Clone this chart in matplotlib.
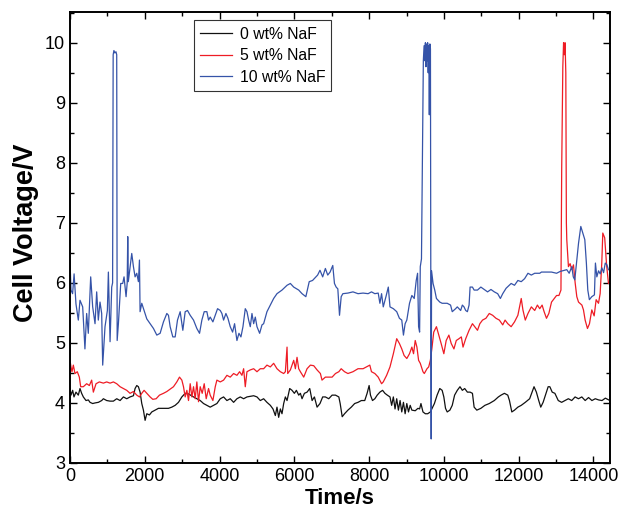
import matplotlib
matplotlib.use("Agg")
import matplotlib.pyplot as plt
from matplotlib.ticker import MultipleLocator

plt.rcParams["font.family"] = ["Liberation Sans", "DejaVu Sans"]

# ── data (time in s, cell voltage in V) ─────────────────────────────────────
t0 = [0, 27, 72, 107, 160, 223, 268, 312, 357, 429, 491, 536, 607, 670, 759, 848, 893, 982,
      1072, 1161, 1250, 1340, 1429, 1518, 1607, 1697, 1741, 1786, 1830, 1875, 1920, 1964, 2009,
      2054, 2125, 2188, 2277, 2366, 2500, 2634, 2723, 2813, 2902, 2992, 3081, 3170, 3304, 3393,
      3483, 3572, 3661, 3750, 3840, 3929, 4019, 4108, 4197, 4286, 4376, 4465, 4554, 4644, 4733,
      4822, 4912, 5001, 5090, 5179, 5268, 5358, 5429, 5492, 5536, 5581, 5626, 5670, 5715, 5760,
      5805, 5876, 5938, 6001, 6055, 6117, 6162, 6206, 6269, 6340, 6412, 6475, 6537, 6608, 6686,
      6758, 6830, 6920, 7010, 7100, 7190, 7226, 7280, 7343, 7433, 7523, 7613, 7703, 7793, 7883,
      7946, 8000, 8036, 8090, 8153, 8216, 8288, 8360, 8423, 8486, 8558, 8603, 8648, 8693, 8738,
      8783, 8828, 8873, 8918, 8963, 9008, 9053, 9098, 9143, 9233, 9305, 9350, 9386, 9440, 9503,
      9566, 9638, 9683, 9746, 9818, 9890, 9953, 9998, 10043, 10088, 10160, 10223, 10286, 10358,
      10430, 10493, 10556, 10628, 10700, 10763, 10808, 10880, 10988, 11096, 11213, 11348, 11456,
      11528, 11618, 11708, 11753, 11816, 11888, 11978, 12068, 12176, 12293, 12356, 12410, 12473,
      12536, 12590, 12653, 12716, 12788, 12833, 12896, 12968, 13058, 13148, 13238, 13328, 13418,
      13508, 13598, 13688, 13778, 13868, 13958, 14048, 14138, 14228, 14318, 14408]
v0 = [4.24, 4.13, 4.21, 4.10, 4.18, 4.13, 4.24, 4.16, 4.10, 4.04, 4.05, 4.01, 3.99, 4.00, 4.01,
      4.04, 4.07, 4.04, 4.03, 4.03, 4.07, 4.04, 4.10, 4.07, 4.10, 4.12, 4.24, 4.29, 4.27, 4.18,
      3.99, 3.88, 3.71, 3.82, 3.80, 3.85, 3.88, 3.91, 3.91, 3.91, 3.93, 3.96, 4.01, 4.10, 4.16,
      4.15, 4.10, 4.07, 4.04, 3.99, 3.96, 3.93, 3.96, 3.99, 4.07, 4.10, 4.04, 4.07, 4.01, 4.07,
      4.10, 4.07, 4.10, 4.11, 4.12, 4.10, 4.04, 4.07, 4.01, 3.96, 3.90, 3.79, 3.93, 3.76, 3.90,
      3.82, 3.99, 4.10, 4.04, 4.24, 4.21, 4.16, 4.21, 4.13, 4.16, 4.07, 4.16, 4.18, 4.24, 4.04,
      4.10, 3.93, 3.99, 4.10, 4.10, 4.07, 4.13, 4.13, 4.10, 3.99, 3.77, 3.82, 3.88, 3.93, 3.99,
      4.01, 4.04, 4.04, 4.16, 4.29, 4.13, 4.04, 4.07, 4.13, 4.18, 4.21, 4.16, 4.13, 4.10, 3.96,
      4.10, 3.90, 4.07, 3.88, 4.04, 3.85, 4.01, 3.82, 3.99, 3.85, 3.96, 3.88, 3.87, 3.91, 3.90,
      3.99, 3.85, 3.82, 3.82, 3.85, 3.91, 3.99, 4.13, 4.24, 4.21, 4.10, 3.91, 3.85, 3.88, 3.96,
      4.13, 4.21, 4.27, 4.21, 4.24, 4.18, 4.18, 4.16, 3.93, 3.88, 3.91, 3.96, 3.99, 4.04, 4.10,
      4.13, 4.16, 4.13, 4.04, 3.85, 3.88, 3.93, 3.96, 4.01, 4.07, 4.18, 4.27, 4.18, 4.04, 3.93,
      4.01, 4.13, 4.27, 4.27, 4.18, 4.16, 4.04, 4.01, 4.04, 4.07, 4.04, 4.10, 4.07, 4.10, 4.04,
      4.09, 4.04, 4.07, 4.05, 4.04, 4.08, 4.05]

t5 = [0, 27, 54, 90, 134, 196, 250, 286, 357, 446, 518, 580, 625, 697, 786, 893, 982, 1072,
      1161, 1250, 1340, 1429, 1518, 1607, 1697, 1786, 1858, 1920, 1982, 2054, 2143, 2215, 2304,
      2393, 2500, 2590, 2679, 2768, 2857, 2929, 2992, 3036, 3081, 3126, 3170, 3215, 3260, 3304,
      3349, 3393, 3438, 3483, 3536, 3590, 3643, 3706, 3750, 3822, 3885, 3929, 4019, 4108, 4197,
      4286, 4376, 4465, 4536, 4599, 4644, 4688, 4733, 4822, 4912, 5001, 5090, 5179, 5268, 5358,
      5447, 5536, 5626, 5715, 5760, 5805, 5823, 5894, 5983, 6028, 6072, 6117, 6162, 6251, 6340,
      6430, 6519, 6608, 6697, 6740, 6830, 6920, 7010, 7100, 7190, 7253, 7343, 7433, 7568, 7703,
      7838, 7928, 8018, 8063, 8153, 8243, 8333, 8378, 8468, 8558, 8648, 8738, 8810, 8873, 8936,
      9008, 9080, 9143, 9188, 9233, 9278, 9323, 9368, 9440, 9476, 9548, 9593, 9638, 9683, 9728,
      9800, 9863, 9926, 9998, 10061, 10133, 10196, 10268, 10331, 10403, 10466, 10511, 10583,
      10673, 10763, 10826, 10898, 10961, 11033, 11123, 11213, 11303, 11393, 11483, 11573, 11636,
      11708, 11798, 11888, 11978, 12068, 12113, 12176, 12248, 12338, 12428, 12500, 12563, 12626,
      12680, 12743, 12806, 12878, 12950, 13013, 13076, 13130, 13150, 13180, 13200, 13220, 13240,
      13260, 13275, 13286, 13330, 13375, 13420, 13465, 13510, 13554, 13600, 13690, 13732, 13777,
      13839, 13893, 13955, 14018, 14071, 14134, 14178, 14222, 14249, 14300, 14350, 14401]
v5 = [4.71, 4.60, 4.52, 4.63, 4.49, 4.52, 4.43, 4.27, 4.27, 4.32, 4.29, 4.38, 4.18, 4.32, 4.35,
      4.33, 4.35, 4.33, 4.35, 4.32, 4.27, 4.24, 4.21, 4.16, 4.19, 4.13, 4.10, 4.16, 4.21, 4.16,
      4.10, 4.06, 4.07, 4.13, 4.16, 4.19, 4.23, 4.27, 4.35, 4.43, 4.38, 4.27, 4.10, 4.21, 4.04,
      4.32, 4.10, 4.27, 4.07, 4.35, 4.02, 4.27, 4.16, 4.32, 4.07, 4.24, 4.13, 4.04, 4.27, 4.38,
      4.35, 4.38, 4.46, 4.43, 4.49, 4.46, 4.52, 4.46, 4.57, 4.27, 4.52, 4.55, 4.57, 4.52, 4.57,
      4.57, 4.63, 4.60, 4.66, 4.57, 4.52, 4.49, 4.52, 4.93, 4.49, 4.55, 4.71, 4.57, 4.76, 4.57,
      4.52, 4.43, 4.57, 4.63, 4.62, 4.55, 4.49, 4.38, 4.43, 4.43, 4.43, 4.49, 4.52, 4.57, 4.52,
      4.49, 4.52, 4.57, 4.57, 4.60, 4.63, 4.52, 4.49, 4.43, 4.32, 4.35, 4.46, 4.60, 4.82, 5.07,
      4.99, 4.90, 4.79, 4.74, 4.82, 4.93, 4.82, 5.04, 4.93, 4.71, 4.66, 4.52, 4.49, 4.57, 4.60,
      4.71, 4.93, 5.18, 5.27, 5.13, 4.99, 4.82, 5.04, 5.13, 4.99, 4.90, 5.04, 5.07, 5.10, 4.93,
      5.07, 5.21, 5.32, 5.27, 5.21, 5.32, 5.38, 5.41, 5.49, 5.46, 5.41, 5.38, 5.30, 5.38, 5.32,
      5.27, 5.35, 5.46, 5.74, 5.55, 5.38, 5.49, 5.60, 5.54, 5.63, 5.57, 5.63, 5.52, 5.41, 5.49,
      5.68, 5.74, 5.79, 5.79, 5.88, 7.90, 9.60, 10.00, 9.80, 10.00, 9.50, 7.00, 6.72, 6.27,
      6.32, 6.22, 6.30, 6.00, 5.77, 5.68, 5.63, 5.55, 5.38, 5.24, 5.32, 5.55, 5.45, 5.72, 5.66,
      5.82, 6.33, 6.83, 6.75, 6.30, 5.99]

t10 = [0, 27, 70, 110, 160, 223, 268, 340, 400, 446, 490, 554, 607, 670, 714, 758, 803, 848,
       875, 937, 1000, 1027, 1072, 1116, 1140, 1155, 1175, 1200, 1230, 1250, 1262, 1295, 1357,
       1410, 1446, 1500, 1530, 1545, 1560, 1652, 1697, 1741, 1786, 1830, 1858, 1875, 1920, 1982,
       2054, 2143, 2233, 2322, 2411, 2500, 2590, 2634, 2679, 2750, 2813, 2875, 2947, 3018, 3081,
       3143, 3215, 3304, 3393, 3465, 3527, 3590, 3661, 3706, 3750, 3822, 3885, 3947, 4019, 4063,
       4108, 4170, 4224, 4286, 4349, 4402, 4465, 4519, 4572, 4626, 4688, 4733, 4778, 4822, 4867,
       4912, 4956, 5001, 5072, 5135, 5179, 5268, 5358, 5447, 5536, 5670, 5805, 5894, 5983, 6117,
       6206, 6308, 6398, 6487, 6623, 6686, 6758, 6830, 6893, 6956, 7028, 7073, 7118, 7163, 7208,
       7253, 7298, 7433, 7568, 7703, 7838, 7973, 8063, 8153, 8243, 8288, 8333, 8378, 8450, 8513,
       8558, 8648, 8738, 8810, 8873, 8918, 8963, 9008, 9080, 9143, 9206, 9260, 9296, 9323, 9350,
       9368, 9400, 9430, 9450, 9470, 9490, 9505, 9520, 9535, 9550, 9565, 9580, 9595, 9610, 9625,
       9640, 9652, 9660, 9670, 9710, 9755, 9800, 9890, 9953, 10088, 10178, 10223, 10313, 10358,
       10448, 10493, 10538, 10583, 10628, 10673, 10700, 10763, 10808, 10898, 10988, 11078, 11168,
       11258, 11348, 11438, 11510, 11573, 11663, 11798, 11888, 11978, 12068, 12158, 12248, 12338,
       12428, 12563, 12608, 12743, 12878, 13013, 13108, 13286, 13350, 13420, 13460, 13500, 13554,
       13600, 13661, 13715, 13768, 13810, 13848, 13890, 13955, 14025, 14052, 14090, 14135, 14180,
       14225, 14270, 14315, 14360, 14400]
v10 = [6.38, 5.88, 5.82, 6.15, 5.65, 5.38, 5.71, 5.60, 4.90, 5.49, 5.16, 6.10, 5.60, 5.32, 5.85,
       5.38, 5.68, 5.49, 4.63, 5.27, 5.54, 6.18, 5.02, 5.93, 6.00, 9.80, 9.87, 9.83, 9.85, 9.80,
       5.04, 5.32, 5.99, 5.99, 6.10, 5.77, 6.00, 6.77, 6.02, 6.49, 6.27, 6.10, 6.16, 6.02, 6.38,
       5.52, 5.66, 5.54, 5.40, 5.32, 5.24, 5.13, 5.16, 5.35, 5.49, 5.46, 5.27, 5.10, 5.10, 5.38,
       5.52, 5.21, 5.52, 5.54, 5.46, 5.38, 5.24, 5.16, 5.38, 5.52, 5.52, 5.38, 5.43, 5.35, 5.46,
       5.57, 5.54, 5.49, 5.38, 5.49, 5.41, 5.27, 5.18, 5.32, 5.04, 5.16, 5.10, 5.27, 5.57, 5.52,
       5.38, 5.27, 5.49, 5.32, 5.43, 5.27, 5.16, 5.30, 5.32, 5.52, 5.63, 5.74, 5.82, 5.88, 5.96,
       5.99, 5.93, 5.88, 5.82, 5.77, 6.02, 6.04, 6.13, 6.21, 6.10, 6.24, 6.13, 6.18, 6.29, 5.99,
       5.93, 5.90, 5.46, 5.77, 5.82, 5.83, 5.85, 5.82, 5.83, 5.82, 5.85, 5.82, 5.83, 5.66, 5.82,
       5.60, 5.77, 5.93, 5.60, 5.57, 5.52, 5.41, 5.38, 5.13, 5.32, 5.38, 5.66, 5.79, 5.74, 6.04,
       6.16, 5.27, 5.18, 6.27, 6.40, 8.50, 9.70, 9.95, 9.70, 10.00, 9.60, 9.98, 9.70, 10.00, 9.50,
       9.95, 8.80, 9.98, 9.90, 5.00, 3.40, 6.20, 5.99, 5.88, 5.74, 5.68, 5.66, 5.66, 5.63, 5.52,
       5.57, 5.60, 5.54, 5.63, 5.60, 5.54, 5.52, 5.63, 5.93, 5.93, 5.88, 5.88, 5.93, 5.89, 5.85,
       5.89, 5.85, 5.82, 5.74, 5.82, 5.91, 5.99, 5.96, 6.04, 6.02, 6.07, 6.16, 6.13, 6.16, 6.16,
       6.18, 6.18, 6.18, 6.16, 6.19, 6.22, 6.16, 6.27, 6.10, 6.05, 6.38, 6.66, 6.94, 6.83, 6.72,
       6.33, 5.88, 5.72, 5.77, 5.80, 6.33, 6.10, 6.20, 6.15, 6.25, 6.17, 6.33, 6.30, 6.22]

labels = ["0 wt% NaF", "5 wt% NaF", "10 wt% NaF"]
colors = ["#111111", "#ee1c25", "#3553a8"]

fig = plt.figure(figsize=(6.22, 5.27), dpi=100)
ax = fig.add_axes([0.1125, 0.1215, 0.8675, 0.8555])

for (t, v), lab, c in zip([(t0, v0), (t5, v5), (t10, v10)], labels, colors):
    ax.plot(t, v, color=c, lw=0.9, label=lab)

ax.set_xlim(0, 14430)
ax.set_ylim(3, 10.51)
ax.xaxis.set_major_locator(MultipleLocator(2000))
ax.xaxis.set_minor_locator(MultipleLocator(1000))
ax.yaxis.set_major_locator(MultipleLocator(1))
ax.yaxis.set_minor_locator(MultipleLocator(0.5))
ax.tick_params(which="both", direction="in", top=True, right=True, width=1.0,
               labelsize=13)
ax.tick_params(which="major", length=5)
ax.tick_params(which="minor", length=3)
for s in ax.spines.values():
    s.set_linewidth(1.4)

ax.set_xlabel("Time/s", fontsize=16, fontweight="bold", labelpad=2)
ax.set_ylabel("Cell Voltage/V", fontsize=19.5, fontweight="bold")
ax.yaxis.set_label_coords(-0.058, 0.51)

leg = ax.legend(loc="upper left", bbox_to_anchor=(0.230, 0.982), borderaxespad=0,
                fontsize=11.3, frameon=True, fancybox=False, handlelength=2.0,
                handletextpad=0.5, borderpad=0.4, labelspacing=0.42)
leg.get_frame().set_edgecolor("black")
leg.get_frame().set_linewidth(0.8)

fig.savefig("out.png", dpi=100)
